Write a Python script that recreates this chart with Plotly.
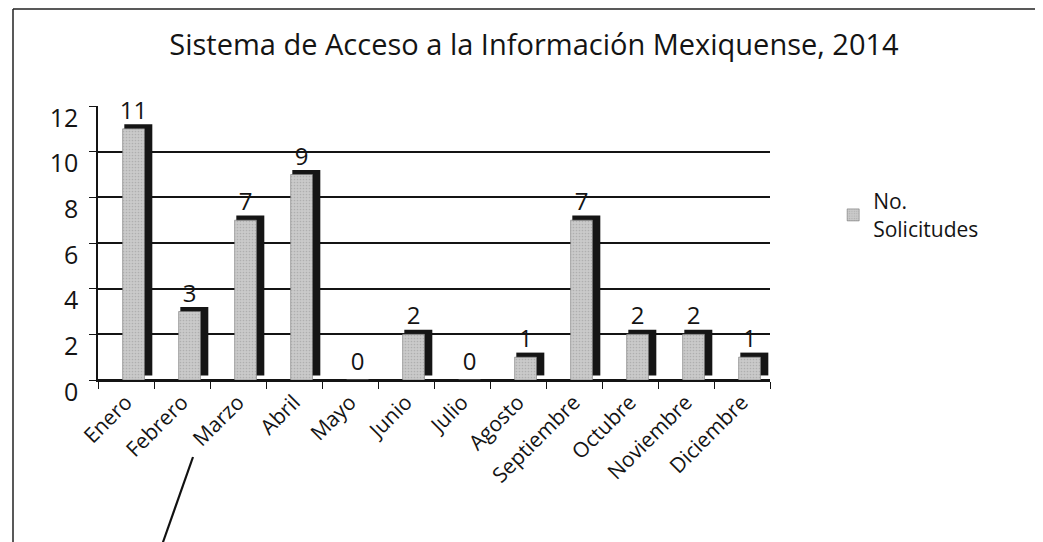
import plotly.graph_objects as go

months = ["Enero", "Febrero", "Marzo", "Abril", "Mayo", "Junio", "Julio",
          "Agosto", "Septiembre", "Octubre", "Noviembre", "Diciembre"]
solicitudes = [11, 3, 7, 9, 0, 2, 0, 1, 7, 2, 2, 1]
series_name = "No.<br>Solicitudes"
title_text = "Sistema de Acceso a la Información Mexiquense, 2014"

FONT = "Open Sans"
INK = "#141414"

# figure geometry (page is shifted by the 8px body margin)
W, H = 1043, 542
L, R, T, B = 90, 281, 98, 170
PW, PH = W - L - R, H - T - B
OFF = 8


def xp(px):
    return (px - OFF - L) / PW


def yp(py):
    return (H - B - (py - OFF)) / PH


fig = go.Figure()

# dark side / cap of the pseudo-3D bars
fig.add_trace(go.Bar(
    x=months, y=solicitudes, base=0.2,
    width=0.5, offset=-0.03,
    marker=dict(color="#151515", line=dict(width=0)),
    showlegend=False, hoverinfo="skip",
))
# front face
fig.add_trace(go.Bar(
    x=months, y=solicitudes, name=series_name,
    width=0.39, offset=-0.06,
    marker=dict(color="#bdbdbd", line=dict(width=0.6, color="#777777"),
                pattern=dict(shape=".", fgcolor="#949494", bgcolor="#cacaca",
                             size=3, solidity=0.25)),
    text=solicitudes, textposition="outside", cliponaxis=False,
    constraintext="none",
    textfont=dict(family=FONT, size=24, color=INK),
))

fig.update_layout(
    width=W, height=H,
    paper_bgcolor="white", plot_bgcolor="white",
    barmode="overlay",
    margin=dict(l=L, r=R, t=T, b=B, autoexpand=False),
    title=dict(text=title_text, x=526 / W, xanchor="center",
               y=1 - 37 / H, yanchor="middle",
               font=dict(family=FONT, size=29, color=INK)),
    font=dict(family=FONT, color=INK),
    legend=dict(x=1.094, y=0.726, xanchor="left", yanchor="top",
                font=dict(family=FONT, size=21, color=INK),
                bgcolor="rgba(0,0,0,0)", itemwidth=30),
    xaxis=dict(type="category", tickangle=-45, tickfont=dict(family=FONT, size=21),
               showline=True, linecolor=INK, linewidth=1.5,
               ticks="outside", tickson="boundaries", ticklen=7, tickcolor=INK,
               showgrid=False, automargin=False),
    yaxis=dict(range=[0, 12], dtick=2, tickfont=dict(family=FONT, size=25),
               showline=True, linecolor=INK, linewidth=1.5,
               ticks="outside", ticklen=7, tickcolor=INK,
               showgrid=True, gridcolor=INK, gridwidth=1.5,
               zeroline=True, zerolinecolor=INK, zerolinewidth=1.5,
               ticklabelstandoff=6, ticklabelshift=12, automargin=False),
)

# outer frame of the chart (scan border) and the pen stroke
fig.add_shape(type="line", xref="paper", yref="paper", x0=xp(13), x1=xp(1060),
              y0=yp(9), y1=yp(9), line=dict(color="#222222", width=1.5))
fig.add_shape(type="line", xref="paper", yref="paper", x0=xp(13), x1=xp(13),
              y0=yp(9), y1=yp(560), line=dict(color="#222222", width=1.5))
fig.add_shape(type="line", xref="paper", yref="paper", x0=xp(193), x1=xp(162),
              y0=yp(457), y1=yp(545), line=dict(color="#111111", width=2.2))

fig.write_html("out.html")
